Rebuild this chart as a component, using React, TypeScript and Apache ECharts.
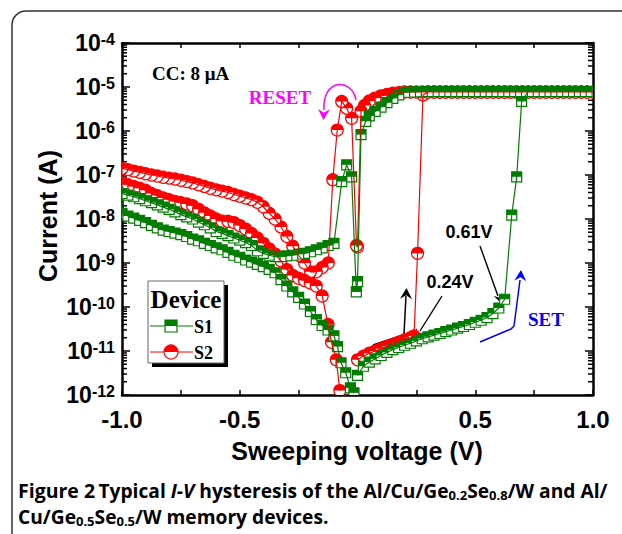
import React, { useEffect, useRef } from 'react';
import * as echarts from 'echarts';

// ---------- data (voltage in V, current in A) ----------
const S1_SET_V = [0, 0.025, 0.05, 0.075, 0.1, 0.125, 0.15, 0.175, 0.2, 0.225, 0.25, 0.275, 0.3, 0.325, 0.35, 0.375, 0.4, 0.425, 0.45, 0.475, 0.5, 0.525, 0.55, 0.575, 0.6, 0.625, 0.655, 0.676, 0.697];
const S1_SET_I = [2.8e-12, 4.5e-12, 5.6e-12, 6.6e-12, 7.9e-12, 9.3e-12, 1.07e-11, 1.2e-11, 1.35e-11, 1.5e-11, 1.7e-11, 1.9e-11, 2.1e-11, 2.3e-11, 2.5e-11, 2.75e-11, 3.0e-11, 3.3e-11, 3.6e-11, 4.0e-11, 4.5e-11, 5.0e-11, 5.75e-11, 7.1e-11, 9.5e-11, 1.5e-10, 1.23e-8, 9.1e-8, 4.7e-6];

const S2_SET_V = [0, 0.025, 0.05, 0.075, 0.1, 0.125, 0.15, 0.175, 0.2, 0.225, 0.24, 0.255, 0.278];
const S2_SET_I = [6.3e-12, 7.6e-12, 8.9e-12, 1.0e-11, 1.12e-11, 1.26e-11, 1.41e-11, 1.58e-11, 1.78e-11, 2.0e-11, 2.2e-11, 1.66e-9, 6.6e-6];

// compliance (CC) sweep voltages
const CC_UP_V = [0.3, 0.325, 0.35, 0.375, 0.4, 0.425, 0.45, 0.475, 0.5, 0.525, 0.55, 0.575, 0.6, 0.625, 0.65, 0.675, 0.7, 0.725, 0.75, 0.775, 0.8, 0.825, 0.85, 0.875, 0.9, 0.925, 0.95, 0.975, 1.0];
const CC_DOWN_V = [0.975, 0.95, 0.925, 0.9, 0.875, 0.85, 0.825, 0.8, 0.775, 0.75, 0.725, 0.7, 0.675, 0.65, 0.625, 0.6, 0.575, 0.55, 0.525, 0.5, 0.475, 0.45, 0.425, 0.4, 0.375, 0.35, 0.325, 0.3, 0.275, 0.25, 0.225, 0.2];
const S1_CC_UP_I = [7.9e-6, 7.9e-6, 7.9e-6, 7.9e-6, 7.9e-6, 7.9e-6, 7.9e-6, 7.9e-6, 7.9e-6, 7.9e-6, 7.9e-6, 7.9e-6];
const S1_CC_DOWN_I = [7.9e-6, 7.9e-6, 7.9e-6, 7.9e-6, 7.9e-6, 7.9e-6, 7.9e-6, 7.9e-6, 7.9e-6, 7.9e-6, 7.9e-6, 7.9e-6, 7.9e-6, 7.9e-6, 7.9e-6, 7.9e-6, 7.9e-6, 7.9e-6, 7.9e-6, 7.9e-6, 7.9e-6, 7.9e-6, 7.9e-6, 7.9e-6, 7.9e-6, 7.9e-6, 7.9e-6, 7.9e-6, 7.9e-6, 7.8e-6, 7.7e-6, 7.6e-6];
const S2_CC_UP_I = [7.7e-6, 7.7e-6, 7.7e-6, 7.7e-6, 7.7e-6, 7.7e-6, 7.7e-6, 7.7e-6, 7.7e-6, 7.7e-6, 7.7e-6, 7.7e-6, 7.7e-6, 7.7e-6, 7.7e-6, 7.7e-6, 7.7e-6, 7.7e-6, 7.7e-6, 7.7e-6, 7.7e-6, 7.7e-6, 7.7e-6, 7.7e-6, 7.7e-6, 7.7e-6, 7.7e-6, 7.7e-6, 7.7e-6];
const S2_CC_DOWN_I = [7.7e-6, 7.7e-6, 7.7e-6, 7.7e-6, 7.7e-6, 7.7e-6, 7.7e-6, 7.7e-6, 7.7e-6, 7.7e-6, 7.7e-6, 7.7e-6, 7.7e-6, 7.7e-6, 7.7e-6, 7.7e-6, 7.7e-6, 7.7e-6, 7.7e-6, 7.7e-6, 7.7e-6, 7.7e-6, 7.7e-6, 7.7e-6, 7.7e-6, 7.7e-6, 7.7e-6, 7.7e-6, 7.7e-6, 7.7e-6, 7.7e-6, 7.7e-6];

// LRS return + RESET region
const S1_LRS_V = [0.175, 0.15, 0.125, 0.1, 0.075, 0.05, 0.035, 0.015, 0.0, -0.005, -0.025, -0.046, -0.067];
const S1_LRS_I = [6.6e-6, 5.5e-6, 4.4e-6, 3.5e-6, 2.8e-6, 2.2e-6, 1.66e-6, 8.3e-7, 3.8e-10, 2.2e-10, 9.1e-8, 1.7e-7, 7.1e-8];
const S2_LRS_V = [0.175, 0.15, 0.125, 0.1, 0.075, 0.05, 0.03, 0.015, 0.0, -0.004, -0.025, -0.046, -0.067, -0.086, -0.105, -0.124];
const S2_LRS_I = [7.4e-6, 7.2e-6, 6.8e-6, 6.3e-6, 5.6e-6, 4.8e-6, 3.8e-6, 2.8e-6, 2.3e-9, 2.5e-9, 1.95e-6, 3.3e-6, 4.7e-6, 1.05e-6, 7.8e-8, 1.0e-9];

// negative HRS sweep voltages
const NEG_V = [-0.1, -0.125, -0.15, -0.175, -0.2, -0.225, -0.25, -0.275, -0.3, -0.325, -0.35, -0.375, -0.4, -0.425, -0.45, -0.475, -0.5, -0.525, -0.55, -0.575, -0.6, -0.625, -0.65, -0.675, -0.7, -0.725, -0.75, -0.775, -0.8, -0.825, -0.85, -0.875, -0.9, -0.925, -0.95, -0.975, -1.0];
const S1_TAIL_V = [-0.085, -0.07, -0.05, -0.03, -0.015];
const S2_TAIL_V = [-0.125, -0.11, -0.09, -0.075];

const S1_HRS_OUT_I = [2.8e-9, 2.5e-9, 2.2e-9, 2.0e-9, 1.8e-9, 1.66e-9, 1.6e-9, 1.5e-9, 1.45e-9, 1.4e-9, 1.4e-9, 1.5e-9, 1.66e-9, 1.9e-9, 2.5e-9, 2.9e-9, 3.3e-9, 3.7e-9, 4.2e-9, 4.7e-9, 5.2e-9, 6.3e-9, 7.4e-9, 8.5e-9, 1.0e-8, 1.12e-8, 1.26e-8, 1.45e-8, 1.66e-8, 1.86e-8, 2.1e-8, 2.35e-8, 2.6e-8, 2.9e-8, 3.2e-8, 3.5e-8, 3.8e-8];
const S1_HRS_BACK_I = [1.35e-8, 1.17e-8, 1.05e-8, 9.3e-9, 8.3e-9, 7.2e-9, 6.3e-9, 5.6e-9, 5.2e-9, 4.8e-9, 4.4e-9, 4.0e-9, 3.5e-9, 3.2e-9, 2.8e-9, 2.5e-9, 2.2e-9, 2.0e-9, 1.74e-9, 1.5e-9, 1.35e-9, 1.17e-9, 1.05e-9, 9.3e-10, 8.3e-10, 7.2e-10, 6.0e-10, 4.2e-10, 3.0e-10, 2.2e-10, 1.66e-10, 1.17e-10, 7.9e-11, 5.2e-11, 3.8e-11, 3.0e-11, 2.2e-11, 1.26e-11, 5.4e-12, 3.2e-12, 1.45e-12, 1.12e-12];
const S2_HRS_OUT_I = [7.9e-10, 6.3e-10, 6.3e-10, 1.0e-9, 1.5e-9, 2.4e-9, 4.0e-9, 6.6e-9, 1.0e-8, 1.35e-8, 1.9e-8, 2.4e-8, 2.75e-8, 3.0e-8, 3.3e-8, 3.6e-8, 4.0e-8, 4.3e-8, 4.6e-8, 5.0e-8, 5.5e-8, 6.0e-8, 6.6e-8, 7.1e-8, 7.6e-8, 8.1e-8, 8.5e-8, 8.9e-8, 9.5e-8, 1.0e-7, 1.07e-7, 1.15e-7, 1.23e-7, 1.32e-7, 1.41e-7];
const S2_HRS_BACK_I = [6.5e-8, 6.0e-8, 5.5e-8, 5.0e-8, 4.5e-8, 3.8e-8, 3.4e-8, 3.0e-8, 2.75e-8, 2.5e-8, 2.35e-8, 2.2e-8, 2.0e-8, 1.66e-8, 1.38e-8, 1.17e-8, 1.0e-8, 8.9e-9, 8.9e-9, 8.3e-9, 7.1e-9, 5.9e-9, 4.7e-9, 3.7e-9, 2.8e-9, 2.1e-9, 1.6e-9, 1.12e-9, 7.1e-10, 5.2e-10, 4.5e-10, 4.0e-10, 3.5e-10, 3.0e-10, 1.78e-10, 4.0e-11, 1.58e-11, 6.3e-12, 1.26e-12];

const X_TICK_LABELS = ['-1.0', '-0.5', '0.0', '0.5', '1.0'];

// ---------- styling ----------
const GREEN = '#007d00';
const RED = '#ff0000';
const SANS = '"Liberation Sans", Arial, sans-serif';
const SERIF = '"Liberation Serif", "Times New Roman", serif';
const CAP = '"Open Sans", "Noto Sans", sans-serif';
const CAP_COLOR = '#231f20';

const zip = (v: number[], i: number[]) => v.map((x, k) => [x, i[k]]);

const S1_PATH = [
  ...zip(S1_SET_V, S1_SET_I),
  ...zip(CC_UP_V.slice(CC_UP_V.length - S1_CC_UP_I.length), S1_CC_UP_I),
  ...zip(CC_DOWN_V, S1_CC_DOWN_I),
  ...zip(S1_LRS_V, S1_LRS_I),
  ...zip(NEG_V, S1_HRS_OUT_I),
  ...zip([...NEG_V].reverse().concat(S1_TAIL_V), S1_HRS_BACK_I),
];
const S2_NEG = NEG_V.slice(2);
const S2_PATH = [
  ...zip(S2_SET_V, S2_SET_I),
  ...zip(CC_UP_V, S2_CC_UP_I),
  ...zip(CC_DOWN_V, S2_CC_DOWN_I),
  ...zip(S2_LRS_V, S2_LRS_I),
  ...zip(S2_NEG, S2_HRS_OUT_I),
  ...zip([...S2_NEG].reverse().concat(S2_TAIL_V), S2_HRS_BACK_I),
];

// minor tick positions on the log axis (2..9 x 10^n)
const MINOR: number[] = [];
for (let e = -12; e < -4; e++) for (let m = 2; m <= 9; m++) MINOR.push(m * Math.pow(10, e));

function squareItem(color: string, size: number) {
  return (params: any, api: any) => {
    const p = api.coord([api.value(0), api.value(1)]);
    const h = size / 2;
    return {
      type: 'group',
      children: [
        { type: 'rect', shape: { x: p[0] - h, y: p[1] - h, width: size, height: size }, style: { fill: '#fff', stroke: color, lineWidth: 1.2 } },
        { type: 'rect', shape: { x: p[0] - h, y: p[1] - h, width: size, height: h }, style: { fill: color } },
      ],
    };
  };
}
function circleItem(color: string, r: number) {
  return (params: any, api: any) => {
    const p = api.coord([api.value(0), api.value(1)]);
    return {
      type: 'group',
      children: [
        { type: 'circle', shape: { cx: p[0], cy: p[1], r }, style: { fill: '#fff', stroke: color, lineWidth: 1.2 } },
        { type: 'sector', shape: { cx: p[0], cy: p[1], r0: 0, r, startAngle: Math.PI, endAngle: 2 * Math.PI, clockwise: true }, style: { fill: color } },
      ],
    };
  };
}
function minorTickItem(params: any, api: any) {
  const l = api.coord([-1, api.value(0)]);
  const r = api.coord([1, api.value(0)]);
  return {
    type: 'group',
    children: [
      { type: 'line', shape: { x1: l[0], y1: l[1], x2: l[0] + 5, y2: l[1] }, style: { stroke: '#000', lineWidth: 1.5 } },
      { type: 'line', shape: { x1: r[0], y1: r[1], x2: r[0] - 5, y2: r[1] }, style: { stroke: '#000', lineWidth: 1.5 } },
    ],
  };
}

function head(tx: number, ty: number, fx: number, fy: number, L = 9, W = 4.5) {
  const dx = tx - fx, dy = ty - fy;
  const d = Math.hypot(dx, dy);
  const ux = dx / d, uy = dy / d;
  const bx = tx - ux * L, by = ty - uy * L;
  return [[tx, ty], [bx - uy * W, by + ux * W], [tx - ux * L * 0.65, ty - uy * L * 0.65], [bx + uy * W, by - ux * W]];
}

const xAxisBase = {
  type: 'value',
  min: -1,
  max: 1,
  interval: 0.25,
  splitLine: { show: false },
  axisLine: { show: true, onZero: false, lineStyle: { color: '#000', width: 2.5 } },
  axisTick: { show: true, inside: true, length: 5, lineStyle: { color: '#000', width: 1.5 } },
};
const yAxisBase = {
  type: 'log',
  logBase: 10,
  min: 1e-12,
  max: 1e-4,
  splitNumber: 8,
  splitLine: { show: false },
  axisLine: { show: true, onZero: false, lineStyle: { color: '#000', width: 2.5 } },
  axisTick: { show: true, inside: true, length: 8, lineStyle: { color: '#000', width: 1.5 } },
};

const txt = (x: number, y: number, text: string, font: string, fill: string, align = 'center', extra: any = {}) => ({
  type: 'text',
  x,
  y,
  ...extra,
  style: { text, font, fill, textAlign: align, textVerticalAlign: 'middle', align, verticalAlign: 'middle' },
});

const capRich = {
  fb: { fontFamily: CAP, fontWeight: 'bold', fontSize: 19.5, lineHeight: 22, color: CAP_COLOR },
  n: { fontFamily: CAP, fontWeight: 'bold', fontSize: 19.2, lineHeight: 22, color: CAP_COLOR },
  it: { fontFamily: CAP, fontWeight: 'bold', fontStyle: 'italic', fontSize: 19.2, lineHeight: 22, color: CAP_COLOR },
  sub: { fontFamily: CAP, fontWeight: 'bold', fontSize: 13, lineHeight: 12, padding: [9, 0, 0, 0], verticalAlign: 'bottom', color: CAP_COLOR },
};

const option: any = {
  animation: false,
  backgroundColor: '#fff',
  grid: { left: 122, top: 43, width: 471, height: 352, containLabel: false },
  xAxis: [
    {
      ...xAxisBase,
      position: 'bottom',
      axisLabel: {
        show: true,
        margin: 12,
        fontSize: 24,
        fontWeight: 'bold',
        fontFamily: SANS,
        color: '#000',
        formatter: (v: number) => {
          const k = Math.round((v + 1) * 2);
          return Math.abs((v + 1) * 2 - k) < 1e-6 ? X_TICK_LABELS[k] : '';
        },
      },
    },
    { ...xAxisBase, position: 'top', axisLabel: { show: false } },
  ],
  yAxis: [
    {
      ...yAxisBase,
      position: 'left',
      axisLabel: {
        show: true,
        margin: 7,
        formatter: (v: number) => `{b|10}{s|${Math.round(Math.log10(v))}}`,
        rich: {
          b: { fontSize: 23, fontWeight: 'bold', fontFamily: SANS, color: '#000', lineHeight: 23, verticalAlign: 'bottom' },
          s: { fontSize: 16, fontWeight: 'bold', fontFamily: SANS, color: '#000', lineHeight: 16, verticalAlign: 'top', padding: [0, 0, 12, 0] },
        },
      },
    },
    { ...yAxisBase, position: 'right', axisLabel: { show: false } },
  ],
  series: [
    {
      type: 'custom',
      renderItem: minorTickItem,
      data: MINOR.map((v) => [v]),
      encode: { y: 0 },
      silent: true,
    },
    {
      type: 'line',
      data: S2_PATH,
      showSymbol: false,
      symbol: 'none',
      lineStyle: { color: RED, width: 1.2 },
      clip: true,
    },
    {
      type: 'custom',
      renderItem: circleItem(RED, 6),
      data: S2_PATH,
      encode: { x: 0, y: 1 },
      clip: true,
    },
    {
      type: 'line',
      data: S1_PATH,
      showSymbol: false,
      symbol: 'none',
      lineStyle: { color: GREEN, width: 1.2 },
      clip: true,
    },
    {
      type: 'custom',
      renderItem: squareItem(GREEN, 10),
      data: S1_PATH,
      encode: { x: 0, y: 1 },
      clip: true,
    },
  ],
  graphic: [
    // panel frame
    { type: 'rect', shape: { x: 12, y: 11, width: 640, height: 600, r: 14 }, style: { fill: 'none', stroke: '#333', lineWidth: 1.5 }, silent: true },
    // axis titles
    txt(48, 216, 'Current (A)', `bold 25px ${SANS}`, '#000', 'center', { rotation: Math.PI / 2 }),
    txt(357, 451, 'Sweeping voltage (V)', `bold 25px ${SANS}`, '#000'),
    // annotations
    txt(152, 73, 'CC: 8 μA', `bold 19px ${SERIF}`, '#000', 'left'),
    txt(280, 97, 'RESET', `bold 19px ${SERIF}`, '#ff00ff'),
    txt(546, 319, 'SET', `bold 19px ${SERIF}`, '#0000ff'),
    txt(469, 232, '0.61V', `bold 18px ${SANS}`, '#000'),
    txt(450, 282, '0.24V', `bold 18px ${SANS}`, '#000'),
    // arrows
    { type: 'line', shape: { x1: 480, y1: 246, x2: 498, y2: 296 }, style: { stroke: '#000', lineWidth: 1.4 } },
    { type: 'polygon', shape: { points: head(501, 303, 480, 246) }, style: { fill: '#000' } },
    { type: 'line', shape: { x1: 442, y1: 296, x2: 420, y2: 331 }, style: { stroke: '#000', lineWidth: 1.4 } },
    { type: 'polygon', shape: { points: head(415, 338, 442, 296) }, style: { fill: '#000' } },
    { type: 'polyline', shape: { points: [[373, 345], [400, 336], [404, 334], [406, 296]] }, style: { stroke: '#000', lineWidth: 1.5, fill: 'none' } },
    { type: 'polygon', shape: { points: head(406.5, 288, 406, 300, 11, 6) }, style: { fill: '#000' } },
    { type: 'polyline', shape: { points: [[480, 342], [511, 329], [514, 326], [520, 280]] }, style: { stroke: '#0000ff', lineWidth: 1.5, fill: 'none' } },
    { type: 'polygon', shape: { points: head(521, 270, 520, 285, 11, 6) }, style: { fill: '#0000ff' } },
    { type: 'bezierCurve', shape: { x1: 356, y1: 100, cpx1: 352, cpy1: 78, cpx2: 322, cpy2: 78, x2: 324, y2: 110 }, style: { stroke: '#ff00ff', lineWidth: 1.5, fill: 'none' } },
    { type: 'polygon', shape: { points: head(323.5, 120, 324, 106, 11, 6) }, style: { fill: '#ff00ff' } },
    // legend
    { type: 'rect', shape: { x: 152, y: 285, width: 76, height: 82 }, style: { fill: '#000' } },
    { type: 'rect', shape: { x: 148, y: 281, width: 76, height: 82 }, style: { fill: '#fff', stroke: '#666', lineWidth: 1 } },
    txt(186, 299, 'Device', `bold 25px ${SERIF}`, '#000'),
    { type: 'line', shape: { x1: 150, y1: 326, x2: 193, y2: 326 }, style: { stroke: GREEN, lineWidth: 1.2 } },
    { type: 'rect', shape: { x: 165, y: 320, width: 12, height: 12 }, style: { fill: '#fff', stroke: GREEN, lineWidth: 1.2 } },
    { type: 'rect', shape: { x: 165, y: 320, width: 12, height: 6 }, style: { fill: GREEN } },
    txt(194, 327, 'S1', `bold 18px ${SERIF}`, '#000', 'left'),
    { type: 'line', shape: { x1: 150, y1: 352, x2: 193, y2: 352 }, style: { stroke: RED, lineWidth: 1.2 } },
    { type: 'circle', shape: { cx: 171, cy: 352, r: 7 }, style: { fill: '#fff', stroke: RED, lineWidth: 1.2 } },
    { type: 'sector', shape: { cx: 171, cy: 352, r0: 0, r: 7, startAngle: Math.PI, endAngle: 2 * Math.PI, clockwise: true }, style: { fill: RED } },
    txt(194, 353, 'S2', `bold 18px ${SERIF}`, '#000', 'left'),
    // caption
    {
      type: 'text',
      x: 18,
      y: 490,
      style: {
        text: '{fb|Figure 2} {n|Typical }{it|I-V}{n| hysteresis of the Al/Cu/Ge}{sub|0.2}{n|Se}{sub|0.8}{n|/W and Al/}',
        rich: capRich,
        textVerticalAlign: 'middle',
        verticalAlign: 'middle',
      },
    },
    {
      type: 'text',
      x: 18,
      y: 516,
      style: {
        text: '{n|Cu/Ge}{sub|0.5}{n|Se}{sub|0.5}{n|/W memory devices.}',
        rich: capRich,
        textVerticalAlign: 'middle',
        verticalAlign: 'middle',
      },
    },
  ],
};

export default function App() {
  const ref = useRef<HTMLDivElement>(null);
  useEffect(() => {
    const chart = echarts.init(ref.current as HTMLDivElement, null, { renderer: 'svg' });
    chart.setOption(option);
    return () => chart.dispose();
  }, []);
  return (
    <div
      ref={ref}
      style={{ position: 'fixed', left: 0, top: 0, width: 622, height: 534, background: '#fff' }}
    />
  );
}
